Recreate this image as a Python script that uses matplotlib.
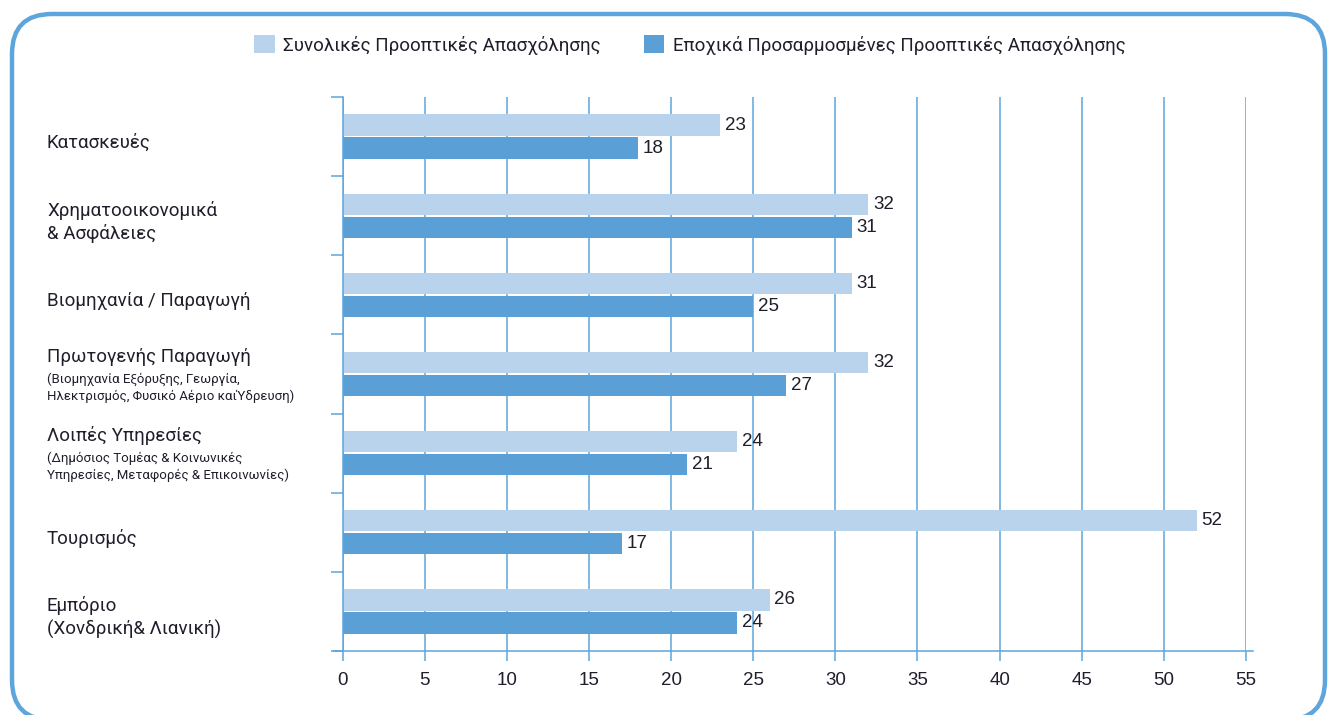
import numpy as np
import matplotlib
matplotlib.use('Agg')
import matplotlib.pyplot as plt
from matplotlib.patches import FancyBboxPatch, Patch
from matplotlib.ticker import FixedLocator
import matplotlib.transforms as mtransforms

plt.rcParams['font.family'] = ['Roboto', 'DejaVu Sans']
num_font = ['Liberation Sans', 'DejaVu Sans']

# data
categories = ['Κατασκευές', 'Χρηματοοικονομικά\n& Ασφάλειες', 'Βιομηχανία / Παραγωγή',
              'Πρωτογενής Παραγωγή', 'Λοιπές Υπηρεσίες', 'Τουρισμός',
              'Εμπόριο\n(Χονδρική& Λιανική)']
subtitles = ['', '', '',
             '(Βιομηχανία Εξόρυξης, Γεωργία,\nΗλεκτρισμός, Φυσικό Αέριο καιΎδρευση)',
             '(Δημόσιος Τομέας & Κοινωνικές\nΥπηρεσίες, Μεταφορές & Επικοινωνίες)',
             '', '']
overall = [23, 32, 31, 32, 24, 52, 26]
seasonal = [18, 31, 25, 27, 21, 17, 24]
series_names = ['Συνολικές Προοπτικές Απασχόλησης',
                'Εποχικά Προσαρμοσμένες Προοπτικές Απασχόλησης']
xticks = [0, 5, 10, 15, 20, 25, 30, 35, 40, 45, 50, 55]

light = '#b8d3eb'
dark = '#5a9fd5'
line_col = '#5ea5dc'
text_col = '#1e1f2b'

fig = plt.figure(figsize=(13.29, 7.15), dpi=100)
ax = fig.add_axes([342.5 / 1329, 1 - 651 / 715, (1246 - 342.5) / 1329, (651 - 97) / 715])

y = np.arange(len(categories))
h = 0.27
off = 0.145
b1 = ax.barh(y - off, overall, height=h, color=light, zorder=3)
b2 = ax.barh(y + off, seasonal, height=h, color=dark, zorder=3)

for bars, vals in [(b1, overall), (b2, seasonal)]:
    for rect, v in zip(bars, vals):
        ax.annotate(str(v), (v, rect.get_y() + rect.get_height() / 2), xytext=(3.5, 0),
                    textcoords='offset points', va='center', ha='left', fontsize=13.5,
                    color=text_col, family=num_font)

ax.set_xlim(0, 55)
ax.set_ylim(len(categories) - 0.5, -0.5)
ax.xaxis.set_major_locator(FixedLocator(xticks))
ax.grid(axis='x', color=line_col, linewidth=1.1, zorder=0)
ax.set_axisbelow(True)
for s in ['top', 'right', 'bottom']:
    ax.spines[s].set_visible(False)
ax.spines['left'].set_color(line_col)
ax.spines['left'].set_linewidth(1.1)
ax.spines['left'].set_zorder(4)

# bottom axis line, a little wider than the plot area
ax.plot([-0.5, 55.45], [len(categories) - 0.5] * 2, color=line_col, lw=1.1,
        clip_on=False, zorder=4)

ax.tick_params(axis='x', direction='out', length=7, width=1.1, color=line_col,
               labelsize=13.5, labelcolor=text_col, pad=8)
for lab in ax.get_xticklabels():
    lab.set_family(num_font)
ax.set_yticks(np.arange(len(categories) + 1) - 0.5)
ax.set_yticklabels([])
ax.tick_params(axis='y', direction='out', length=9, width=1.1, color=line_col)

# category labels on the left
trans = mtransforms.blended_transform_factory(fig.transFigure, ax.transData)
for i, (cat, sub) in enumerate(zip(categories, subtitles)):
    if sub:
        ax.annotate(cat, (47 / 1329, i), xycoords=trans, xytext=(0, 12.5),
                    textcoords='offset points', ha='left', va='center',
                    fontsize=13.5, color=text_col, annotation_clip=False)
        ax.annotate(sub, (47 / 1329, i), xycoords=trans, xytext=(0, -10),
                    textcoords='offset points', ha='left', va='center',
                    fontsize=9.5, color=text_col, linespacing=1.3, annotation_clip=False)
    else:
        ax.annotate(cat, (47 / 1329, i), xycoords=trans, xytext=(0, -4.5),
                    textcoords='offset points', ha='left', va='center',
                    fontsize=13.5, color=text_col, linespacing=1.3, annotation_clip=False)

handles = [Patch(facecolor=light, edgecolor='none'), Patch(facecolor=dark, edgecolor='none')]
fig.legend(handles, series_names, loc='center', bbox_to_anchor=(0.519, 1 - 45 / 715),
           ncol=2, frameon=False, fontsize=13.5, handlelength=1.1, handleheight=1.1,
           handletextpad=0.45, columnspacing=2.3, labelcolor=text_col)

# rounded frame
frame = FancyBboxPatch((0.12, -0.05), 13.13, 7.06, boxstyle='round,pad=0,rounding_size=0.4',
                       transform=fig.dpi_scale_trans, facecolor='none', edgecolor=line_col,
                       linewidth=3.2, clip_on=False)
fig.patches.append(frame)

fig.savefig('out.png', dpi=100)
